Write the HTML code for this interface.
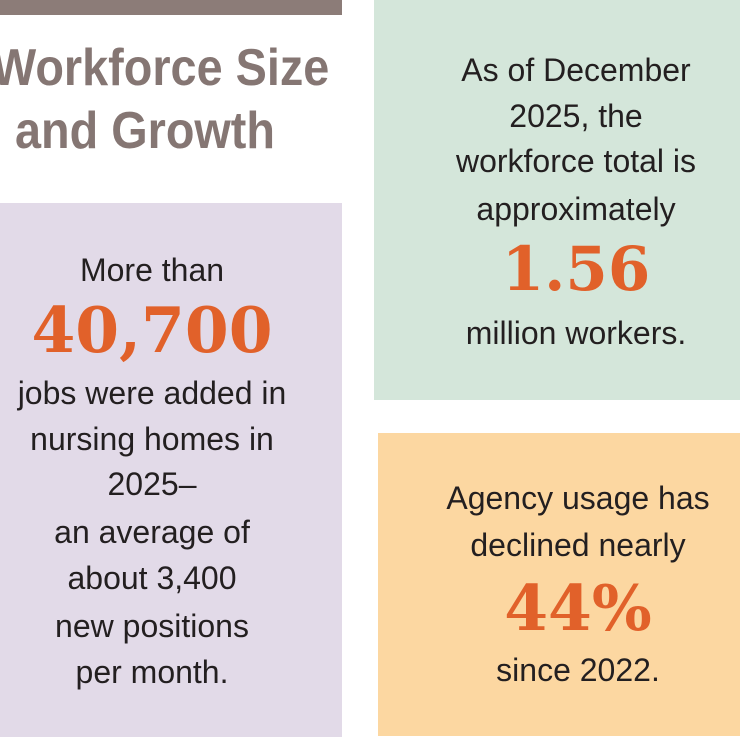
<!DOCTYPE html>
<html><head><meta charset="utf-8"><style>
body{margin:0;width:740px;height:740px;background:#fff;position:relative;overflow:hidden;font-family:"Liberation Sans",sans-serif;color:#231f20}
.b{position:absolute}
.c{position:absolute;top:0;width:400px;height:100%}
.l{position:absolute;left:0;right:0;text-align:center;font-size:32px;line-height:36px;height:36px}
.n{position:absolute;left:0;right:0;text-align:center;font-family:"DejaVu Serif","Liberation Serif",serif;font-weight:bold;color:#e1612a;line-height:60px;height:60px}
.t{position:absolute;font-weight:bold;color:#857673;font-size:52px;line-height:60px;transform-origin:left center;white-space:nowrap}
</style></head><body>
<div class="b" style="left:0;top:0;width:342px;height:15px;background:#8c7c78"></div>
<div class="t" style="left:-8px;top:38px;transform:scaleX(0.9)">Workforce Size</div>
<div class="t" style="left:15px;top:101px;transform:scaleX(0.9)">and Growth</div>

<div class="b" style="left:0;top:203px;width:342px;height:534px;background:#e2dae8">
 <div class="c" style="left:-48px">
 <div class="l" style="top:49px">More than</div>
 <div class="n" style="top:97px;font-size:63px">40,700</div>
 <div class="l" style="top:172px">jobs were added in</div>
 <div class="l" style="top:218px">nursing homes in</div>
 <div class="l" style="top:263px">2025–</div>
 <div class="l" style="top:311px">an average of</div>
 <div class="l" style="top:357px">about 3,400</div>
 <div class="l" style="top:405px">new positions</div>
 <div class="l" style="top:451px">per month.</div>
 </div>
</div>

<div class="b" style="left:374px;top:0;width:366px;height:400px;background:#d4e6da">
 <div class="c" style="left:2px">
 <div class="l" style="top:52px">As of December</div>
 <div class="l" style="top:98px">2025, the</div>
 <div class="l" style="top:143px">workforce total is</div>
 <div class="l" style="top:191px">approximately</div>
 <div class="n" style="top:240px;font-size:61px">1.56</div>
 <div class="l" style="top:315px">million workers.</div>
 </div>
</div>

<div class="b" style="left:378px;top:433px;width:362px;height:303px;background:#fcd7a1">
 <div class="c" style="left:0px">
 <div class="l" style="top:47px">Agency usage has</div>
 <div class="l" style="top:94px">declined nearly</div>
 <div class="n" style="top:145px;font-size:63px">44%</div>
 <div class="l" style="top:219px">since 2022.</div>
 </div>
</div>
</body></html>
